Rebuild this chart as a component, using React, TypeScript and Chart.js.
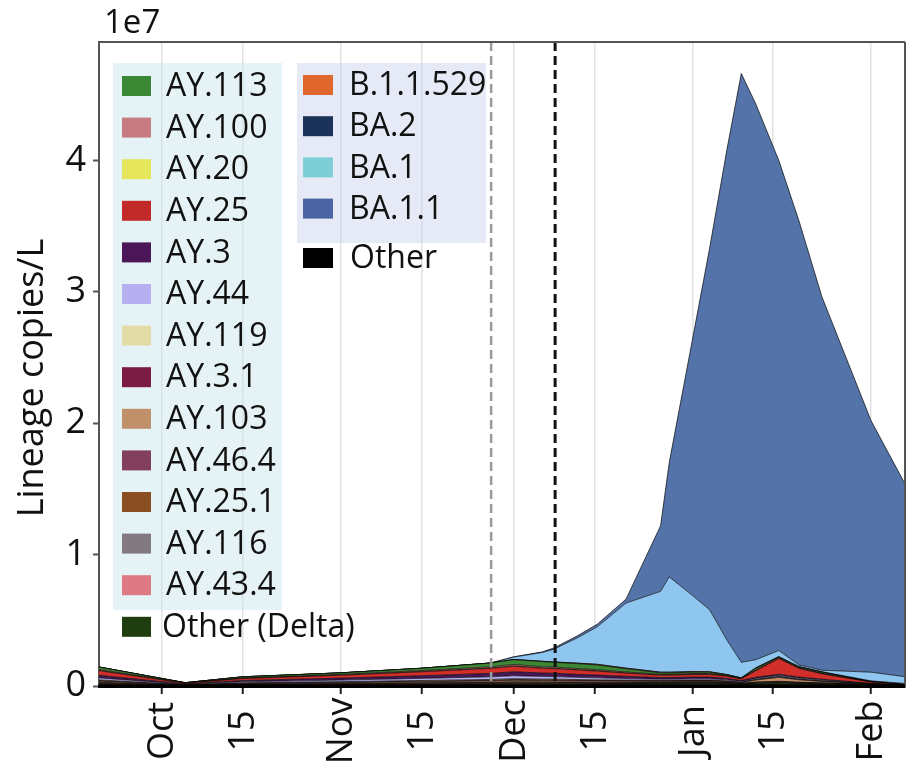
import React, { useEffect, useRef } from 'react';
import { Chart, registerables } from 'chart.js';

Chart.register(...registerables);

const FONT = '"Open Sans", "Noto Sans", "DejaVu Sans", sans-serif';

// sample dates, as days since 1 Oct 2021
const sampleDays = [-11, 4, 14, 31, 45, 57, 61, 66, 68, 72, 75.5, 80.5, 86.5, 88, 92, 95, 98, 100.5, 103, 107, 110.5, 114.5, 123, 129];

// x ticks (days since 1 Oct) and their labels
const tickDays = [0, 14, 31, 45, 61, 75, 92, 106, 123];
const tickLabels = ['Oct', '15', 'Nov', '15', 'Dec', '15', 'Jan', '15', 'Feb'];

// y ticks, values in millions of copies/L (axis shown in units of 1e7)
const yTickValues = [0, 10, 20, 30, 40];
const yTickLabels = ['0', '1', '2', '3', '4'];

// vertical dashed markers (days since 1 Oct)
const markerDays = [57.1, 68.2];

// lineage values, millions of copies/L
const other = [0.06, 0.01, 0.03, 0.04, 0.05, 0.06, 0.07, 0.07, 0.07, 0.07, 0.07, 0.07, 0.08, 0.08, 0.09, 0.09, 0.08, 0.07, 0.08, 0.08, 0.07, 0.06, 0.03, 0.01];
const otherDelta = [0.06, 0.01, 0.03, 0.04, 0.05, 0.06, 0.07, 0.07, 0.07, 0.07, 0.08, 0.09, 0.12, 0.12, 0.12, 0.12, 0.1, 0.08, 0.12, 0.15, 0.12, 0.1, 0.05, 0.02];
const ay43_4 = [0.03, 0.01, 0.01, 0.02, 0.03, 0.03, 0.03, 0.03, 0.03, 0.03, 0.02, 0.02, 0.02, 0.02, 0.02, 0.02, 0.02, 0.01, 0.02, 0.03, 0.02, 0.02, 0.01, 0];
const ay116 = [0.03, 0.01, 0.01, 0.02, 0.02, 0.03, 0.03, 0.03, 0.03, 0.03, 0.02, 0.02, 0.02, 0.02, 0.02, 0.02, 0.02, 0.01, 0.02, 0.02, 0.02, 0.01, 0.01, 0];
const ay25_1 = [0.07, 0.01, 0.04, 0.05, 0.06, 0.07, 0.08, 0.07, 0.07, 0.06, 0.06, 0.05, 0.04, 0.04, 0.04, 0.04, 0.03, 0.02, 0.04, 0.05, 0.04, 0.03, 0.01, 0];
const ay46_4 = [0.03, 0.01, 0.02, 0.02, 0.03, 0.03, 0.04, 0.04, 0.04, 0.03, 0.03, 0.03, 0.02, 0.02, 0.02, 0.02, 0.02, 0.01, 0.02, 0.03, 0.02, 0.02, 0.01, 0];
const ay103 = [0.09, 0.01, 0.04, 0.06, 0.08, 0.1, 0.11, 0.1, 0.1, 0.09, 0.09, 0.08, 0.06, 0.06, 0.07, 0.07, 0.06, 0.05, 0.15, 0.3, 0.18, 0.1, 0.02, 0.01];
const ay3_1 = [0.05, 0.01, 0.03, 0.04, 0.05, 0.06, 0.07, 0.06, 0.06, 0.06, 0.05, 0.05, 0.04, 0.04, 0.04, 0.04, 0.03, 0.02, 0.03, 0.04, 0.03, 0.03, 0.01, 0];
const ay119 = [0.05, 0.01, 0.03, 0.04, 0.05, 0.06, 0.06, 0.06, 0.06, 0.05, 0.05, 0.04, 0.03, 0.03, 0.03, 0.03, 0.03, 0.02, 0.03, 0.03, 0.03, 0.02, 0.01, 0];
const ay44 = [0.15, 0.03, 0.08, 0.12, 0.16, 0.2, 0.22, 0.2, 0.19, 0.17, 0.15, 0.12, 0.09, 0.09, 0.1, 0.1, 0.08, 0.06, 0.07, 0.08, 0.07, 0.06, 0.02, 0.01];
const ay3 = [0.2, 0.04, 0.1, 0.15, 0.2, 0.26, 0.3, 0.26, 0.25, 0.23, 0.21, 0.17, 0.12, 0.12, 0.13, 0.13, 0.1, 0.07, 0.08, 0.08, 0.08, 0.07, 0.02, 0.01];
const ay25 = [0.35, 0.05, 0.15, 0.22, 0.3, 0.38, 0.42, 0.36, 0.35, 0.33, 0.3, 0.24, 0.18, 0.18, 0.2, 0.2, 0.17, 0.12, 0.5, 1.2, 0.66, 0.4, 0.1, 0.03];
const ay20 = [0.03, 0.01, 0.01, 0.02, 0.03, 0.03, 0.04, 0.03, 0.03, 0.03, 0.03, 0.02, 0.02, 0.02, 0.02, 0.02, 0.02, 0.01, 0.02, 0.02, 0.02, 0.02, 0, 0];
const ay100 = [0.07, 0.01, 0.03, 0.05, 0.07, 0.09, 0.1, 0.09, 0.09, 0.08, 0.08, 0.07, 0.05, 0.05, 0.05, 0.05, 0.04, 0.03, 0.05, 0.05, 0.05, 0.04, 0.01, 0];
const ay113 = [0.18, 0.02, 0.09, 0.11, 0.17, 0.29, 0.36, 0.38, 0.36, 0.37, 0.36, 0.24, 0.11, 0.11, 0.1, 0.1, 0.05, 0.02, 0.12, 0.04, 0.04, 0.07, 0, 0];
const b11529 = [0, 0, 0, 0, 0, 0, 0.02, 0.03, 0.03, 0.04, 0.05, 0.05, 0.05, 0.05, 0.04, 0.03, 0.02, 0.02, 0.02, 0.02, 0.01, 0.01, 0, 0];
const ba2 = [0, 0, 0, 0, 0, 0, 0, 0, 0, 0, 0, 0, 0, 0, 0, 0, 0, 0, 0.01, 0.02, 0.02, 0.03, 0.08, 0.1];
const ba1 = [0, 0, 0, 0, 0, 0, 0.18, 0.67, 0.97, 1.91, 2.85, 4.95, 6.15, 7.25, 5.81, 4.72, 2.63, 1.18, 0.62, 0.46, 0.12, 0.11, 0.66, 0.51];
const ba1_1 = [0, 0, 0, 0, 0, 0, 0.02, 0.05, 0.1, 0.15, 0.2, 0.3, 5.0, 8.7, 19.4, 27.5, 37.3, 44.8, 42.3, 37.3, 33.8, 28.4, 19.15, 14.6];

// stacking order, bottom to top
const stackNames = ['Other', 'Other (Delta)', 'AY.43.4', 'AY.116', 'AY.25.1', 'AY.46.4', 'AY.103', 'AY.3.1', 'AY.119', 'AY.44', 'AY.3', 'AY.25', 'AY.20', 'AY.100', 'AY.113', 'B.1.1.529', 'BA.2', 'BA.1', 'BA.1.1'];
const stackValues = [other, otherDelta, ay43_4, ay116, ay25_1, ay46_4, ay103, ay3_1, ay119, ay44, ay3, ay25, ay20, ay100, ay113, b11529, ba2, ba1, ba1_1];
const stackColors = ['#000000', '#1F3D0F', '#DD7B85', '#857B84', '#8A4E22', '#84405F', '#C3906B', '#7B1B45', '#E3DCA9', '#B7B0F0', '#4B1657', '#D22F2A', '#E6E65C', '#C87F82', '#3C8834', '#E0672C', '#1B3358', '#8FC6F0', '#5473A8'];

// legend
const leftLegendNames = ['AY.113', 'AY.100', 'AY.20', 'AY.25', 'AY.3', 'AY.44', 'AY.119', 'AY.3.1', 'AY.103', 'AY.46.4', 'AY.25.1', 'AY.116', 'AY.43.4'];
const leftLegendColors = ['#3A8734', '#C67C80', '#E5E65C', '#C22A2A', '#4A1657', '#B6B0F0', '#E3DCA9', '#7A1B44', '#C0906B', '#83405E', '#8A4E22', '#827A80', '#DE7A84'];
const rightLegendNames = ['B.1.1.529', 'BA.2', 'BA.1', 'BA.1.1'];
const rightLegendColors = ['#E0672C', '#1B3358', '#7DCFD5', '#4D64A4'];

export default function App() {
  const ref = useRef<HTMLCanvasElement>(null);

  useEffect(() => {
    const canvas = ref.current;
    if (!canvas) return;

    const datasets = stackNames.map((name, i) => ({
      label: name,
      data: sampleDays.map((d, j) => ({ x: d, y: stackValues[i][j] })),
      backgroundColor: stackColors[i],
      borderColor: 'rgba(0,0,0,0.85)',
      borderWidth: 0.8,
      pointRadius: 0,
      pointHoverRadius: 0,
      tension: 0,
      fill: i === 0 ? 'origin' : '-1',
    }));

    const overlay = {
      id: 'overlay',
      afterDatasetsDraw(chart: any) {
        const { ctx, chartArea } = chart;
        const xs = chart.scales.x;
        ctx.save();
        // dashed markers
        markerDays.forEach((d, i) => {
          const px = xs.getPixelForValue(d);
          ctx.beginPath();
          ctx.setLineDash([9, 5]);
          ctx.strokeStyle = i === 0 ? '#9a9a9a' : '#111';
          ctx.lineWidth = i === 0 ? 2.5 : 3;
          ctx.moveTo(px, chartArea.top);
          ctx.lineTo(px, chartArea.bottom);
          ctx.stroke();
        });
        ctx.setLineDash([]);
        // frame
        ctx.strokeStyle = '#555';
        ctx.lineWidth = 2;
        ctx.beginPath();
        ctx.moveTo(chartArea.left, chartArea.top);
        ctx.lineTo(chartArea.right, chartArea.top);
        ctx.moveTo(chartArea.right, chartArea.top);
        ctx.lineTo(chartArea.right, chartArea.bottom);
        ctx.stroke();
        ctx.strokeStyle = '#000';
        ctx.lineWidth = 3;
        ctx.beginPath();
        ctx.moveTo(chartArea.left - 1, chartArea.bottom);
        ctx.lineTo(chartArea.right, chartArea.bottom);
        ctx.stroke();
        ctx.restore();
      },
      afterDraw(chart: any) {
        const { ctx } = chart;
        const xs = chart.scales.x;
        ctx.save();
        // x tick labels
        ctx.fillStyle = '#111';
        ctx.font = `36px ${FONT}`;
        ctx.textAlign = 'center';
        ctx.textBaseline = 'middle';
        tickDays.forEach((d, i) => {
          const px = xs.getPixelForValue(d);
          ctx.save();
          ctx.translate(px + 1, 731);
          ctx.rotate(-Math.PI / 2);
          ctx.fillText(tickLabels[i], 0, 0);
          ctx.restore();
        });
        // y title
        ctx.save();
        ctx.translate(33, 378);
        ctx.rotate(-Math.PI / 2);
        ctx.fillText('Lineage copies/L', 0, 0);
        ctx.restore();
        // exponent
        ctx.font = `33px ${FONT}`;
        ctx.textAlign = 'left';
        ctx.textBaseline = 'alphabetic';
        ctx.fillText('1e7', 104, 33);

        // legend panels
        ctx.fillStyle = 'rgba(200,228,235,0.45)';
        ctx.fillRect(113, 63, 169, 547);
        ctx.fillStyle = 'rgba(200,208,235,0.45)';
        ctx.fillRect(297, 63, 189, 180);

        ctx.font = `32px ${FONT}`;
        ctx.textBaseline = 'middle';
        const rowH = 41.6;
        leftLegendNames.forEach((n, i) => {
          const y = 86 + i * rowH;
          ctx.fillStyle = leftLegendColors[i];
          ctx.fillRect(122, y - 10, 29, 20);
          ctx.fillStyle = '#111';
          ctx.fillText(n, 166, y + 1);
        });
        {
          const y = 86 + 13 * rowH;
          ctx.fillStyle = '#1F3D0F';
          ctx.fillRect(122, y - 10, 29, 20);
          ctx.fillStyle = '#111';
          ctx.fillText('Other (Delta)', 162, y + 1);
        }
        rightLegendNames.forEach((n, i) => {
          const y = 85 + i * 41.2;
          ctx.fillStyle = rightLegendColors[i];
          ctx.fillRect(303, y - 10, 30, 20);
          ctx.fillStyle = '#111';
          ctx.fillText(n, 349, y + 1);
        });
        {
          const y = 258;
          ctx.fillStyle = '#000';
          ctx.fillRect(303, y - 10, 30, 20);
          ctx.fillStyle = '#111';
          ctx.fillText('Other', 350, y + 1);
        }
        ctx.restore();
      },
    };

    const chart = new Chart(canvas, {
      type: 'line',
      data: { datasets },
      options: {
        animation: false,
        responsive: false,
        maintainAspectRatio: false,
        events: [],
        layout: { padding: { top: 42, right: 1, left: 0, bottom: 0 } },
        plugins: {
          legend: { display: false },
          tooltip: { enabled: false },
          title: { display: false },
        },
        elements: { line: { borderJoinStyle: 'round' } },
        scales: {
          x: {
            type: 'linear',
            min: -10.93,
            max: 128.9,
            afterBuildTicks: (s: any) => {
              s.ticks = tickDays.map((v) => ({ value: v }));
            },
            ticks: { display: false },
            grid: {
              color: '#e2e2e2',
              lineWidth: 1.5,
              drawTicks: true,
              tickLength: 8,
              tickColor: '#222',
              tickWidth: 2,
            },
            border: { display: true, color: '#000', width: 3 },
            afterFit: (s: any) => {
              s.height = 82;
            },
          },
          y: {
            type: 'linear',
            stacked: true,
            min: 0,
            max: 49,
            afterBuildTicks: (s: any) => {
              s.ticks = yTickValues.map((v) => ({ value: v }));
            },
            ticks: {
              callback: (v: any) => {
                const k = yTickValues.indexOf(Number(v));
                return k >= 0 ? yTickLabels[k] : '';
              },
              font: { family: FONT, size: 36 },
              color: '#111',
              padding: 7,
            },
            grid: {
              drawOnChartArea: false,
              drawTicks: true,
              tickLength: 6,
              tickColor: '#555',
              tickWidth: 2,
            },
            border: { display: true, color: '#555', width: 2 },
            afterFit: (s: any) => {
              s.width = 99;
            },
          },
        },
      } as any,
      plugins: [overlay],
    });

    return () => chart.destroy();
  }, []);

  return (
    <div style={{ position: 'absolute', left: 0, top: 0, width: 906, height: 768, background: '#fff' }}>
      <canvas ref={ref} width={906} height={768} style={{ width: 906, height: 768, display: 'block' }} />
    </div>
  );
}
